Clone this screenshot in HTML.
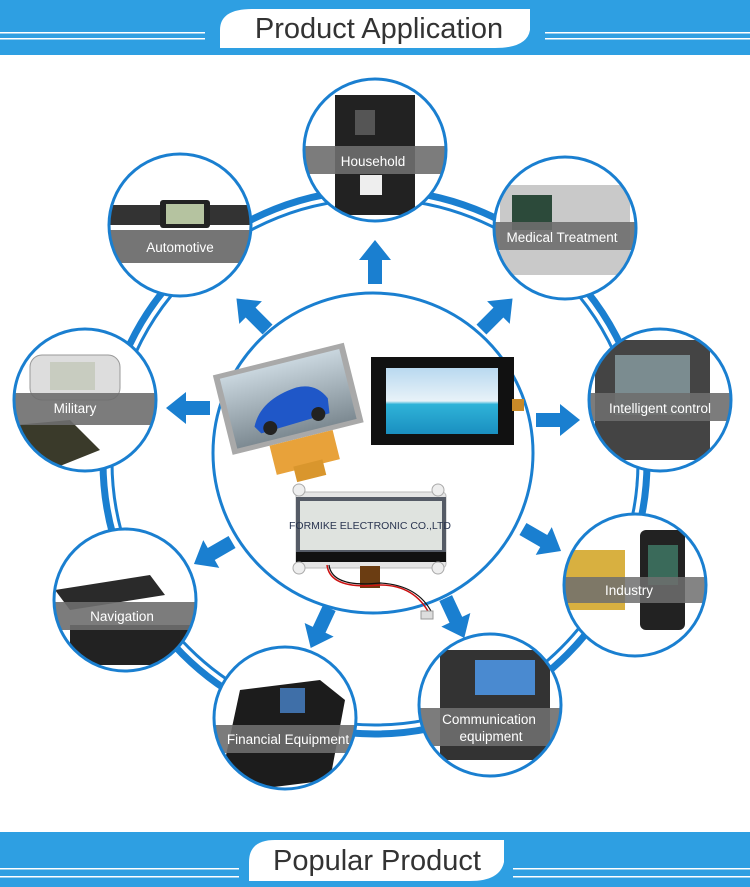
<!DOCTYPE html>
<html><head><meta charset="utf-8"><style>
html,body{margin:0;padding:0;background:#fff;width:750px;height:887px;overflow:hidden}
svg{display:block}
text{font-family:"Liberation Sans",Arial,sans-serif}
</style></head><body>
<svg width="750" height="887" viewBox="0 0 750 887" xmlns="http://www.w3.org/2000/svg">
<defs>
<clipPath id="c1"><circle cx="375" cy="150" r="70"/></clipPath>
<clipPath id="c2"><circle cx="565" cy="228" r="70"/></clipPath>
<clipPath id="c3"><circle cx="660" cy="400" r="70"/></clipPath>
<clipPath id="c4"><circle cx="635" cy="585" r="70"/></clipPath>
<clipPath id="c5"><circle cx="490" cy="705" r="70"/></clipPath>
<clipPath id="c6"><circle cx="285" cy="718" r="70"/></clipPath>
<clipPath id="c7"><circle cx="125" cy="600" r="70"/></clipPath>
<clipPath id="c8"><circle cx="85" cy="400" r="70"/></clipPath>
<clipPath id="c9"><circle cx="180" cy="225" r="70"/></clipPath>
<linearGradient id="sky" x1="0" y1="0" x2="0" y2="1"><stop offset="0" stop-color="#b9d9f0"/><stop offset="0.5" stop-color="#e8f2f8"/><stop offset="0.55" stop-color="#2fb3d8"/><stop offset="1" stop-color="#1a8fc0"/></linearGradient>
<linearGradient id="carbg" x1="0" y1="0" x2="0" y2="1"><stop offset="0" stop-color="#c9d6de"/><stop offset="1" stop-color="#7d8a92"/></linearGradient>
</defs>

<!-- top banner -->
<rect x="0" y="0" width="750" height="55" fill="#2e9fe2"/>
<rect x="0" y="32" width="205" height="1.5" fill="#fff"/><rect x="0" y="38" width="205" height="1.5" fill="#fff"/>
<rect x="545" y="32" width="205" height="1.5" fill="#fff"/><rect x="545" y="38" width="205" height="1.5" fill="#fff"/>
<path d="M220 48 V30 Q220 9 252 9 H530 V30 Q527 48 495 48 Z" fill="#fff"/>
<text x="379" y="38" text-anchor="middle" font-size="29" fill="#333">Product Application</text>

<!-- bottom banner -->
<rect x="0" y="832" width="750" height="55" fill="#2e9fe2"/>
<rect x="0" y="868" width="239" height="1.5" fill="#fff"/><rect x="0" y="876" width="239" height="1.5" fill="#fff"/>
<rect x="513" y="868" width="237" height="1.5" fill="#fff"/><rect x="513" y="876" width="237" height="1.5" fill="#fff"/>
<path d="M249 881 V862 Q249 840 275 840 H504 V862 Q500 881 470 881 Z" fill="#fff"/>
<text x="377" y="870" text-anchor="middle" font-size="29" fill="#333">Popular Product</text>

<!-- ring -->
<circle cx="375" cy="462" r="272" fill="none" stroke="#1a7fd0" stroke-width="7"/>
<circle cx="375" cy="462" r="263" fill="none" stroke="#1a7fd0" stroke-width="3"/>

<!-- arrows -->
<g fill="#1a7fd0">
<g transform="translate(375,262) rotate(0)"><polygon points="0,-22 16,-2 7,-2 7,22 -7,22 -7,-2 -16,-2"/></g>
<g transform="translate(497,314) rotate(45)"><polygon points="0,-22 16,-2 7,-2 7,22 -7,22 -7,-2 -16,-2"/></g>
<g transform="translate(558,420) rotate(90)"><polygon points="0,-22 16,-2 7,-2 7,22 -7,22 -7,-2 -16,-2"/></g>
<g transform="translate(542,540) rotate(120)"><polygon points="0,-22 16,-2 7,-2 7,22 -7,22 -7,-2 -16,-2"/></g>
<g transform="translate(455,618) rotate(155)"><polygon points="0,-22 16,-2 7,-2 7,22 -7,22 -7,-2 -16,-2"/></g>
<g transform="translate(320,628) rotate(205)"><polygon points="0,-22 16,-2 7,-2 7,22 -7,22 -7,-2 -16,-2"/></g>
<g transform="translate(213,553) rotate(240)"><polygon points="0,-22 16,-2 7,-2 7,22 -7,22 -7,-2 -16,-2"/></g>
<g transform="translate(188,408) rotate(270)"><polygon points="0,-22 16,-2 7,-2 7,22 -7,22 -7,-2 -16,-2"/></g>
<g transform="translate(252,314) rotate(-45)"><polygon points="0,-22 16,-2 7,-2 7,22 -7,22 -7,-2 -16,-2"/></g>
</g>

<!-- center circle -->
<circle cx="373" cy="453" r="160" fill="#fff" stroke="#1a7fd0" stroke-width="3"/>
<g transform="rotate(-14 280 405)">
<rect x="222" y="360" width="135" height="82" fill="#a9a9a9"/>
<rect x="228" y="365" width="123" height="72" fill="url(#carbg)"/>
<path d="M250 420 Q262 395 300 392 Q320 392 328 410 L326 425 L255 428 Z" fill="#1f57c8"/>
<circle cx="265" cy="425" r="7" fill="#222"/><circle cx="315" cy="423" r="7" fill="#222"/>
<rect x="260" y="442" width="65" height="30" fill="#e8a23a"/>
<rect x="278" y="468" width="30" height="16" fill="#d9962d"/>
</g>
<rect x="371" y="357" width="143" height="88" fill="#111"/>
<rect x="386" y="368" width="112" height="66" fill="url(#sky)"/>
<rect x="512" y="399" width="12" height="12" fill="#c98a28"/>
<rect x="296" y="492" width="150" height="76" rx="4" fill="#e5e5e5" stroke="#bbb"/>
<rect x="296" y="497" width="150" height="58" fill="#555b66"/>
<rect x="300" y="501" width="142" height="49" fill="#dfe3df"/>
<rect x="296" y="552" width="150" height="10" fill="#111"/>
<circle cx="299" cy="490" r="6" fill="#eee" stroke="#aaa"/><circle cx="438" cy="490" r="6" fill="#eee" stroke="#aaa"/>
<circle cx="299" cy="568" r="6" fill="#eee" stroke="#aaa"/><circle cx="438" cy="568" r="6" fill="#eee" stroke="#aaa"/>
<text x="370" y="529" text-anchor="middle" font-size="10.5" font-family="Liberation Serif,serif" fill="#2a3550">FORMIKE ELECTRONIC CO.,LTD</text>
<rect x="360" y="566" width="20" height="22" fill="#6b3d12"/>
<path d="M327 565 Q330 590 380 585 Q415 585 430 615" fill="none" stroke="#c11" stroke-width="1.5"/>
<path d="M329 565 Q332 588 380 583 Q418 585 432 613" fill="none" stroke="#111" stroke-width="1.2"/>
<rect x="421" y="611" width="12" height="8" fill="#ddd" stroke="#999"/>

<!-- satellites -->
<g stroke="none">
<g clip-path="url(#c1)"><rect x="300" y="75" width="150" height="150" fill="#fff"/><rect x="335" y="95" width="80" height="120" fill="#222"/><rect x="355" y="110" width="20" height="25" fill="#555"/><rect x="360" y="175" width="22" height="20" fill="#eee"/><rect x="300" y="146" width="150" height="28" fill="#6e6e6e" opacity="0.9"/></g>
<circle cx="375" cy="150" r="71" fill="none" stroke="#1a7fd0" stroke-width="3"/>
<text x="373" y="166" text-anchor="middle" font-size="13.5" fill="#fff">Household</text>
<g clip-path="url(#c2)"><rect x="490" y="155" width="150" height="150" fill="#fff"/><rect x="500" y="185" width="130" height="90" fill="#c9c9c9"/><rect x="512" y="195" width="40" height="35" fill="#2c4a3a"/><rect x="490" y="222" width="150" height="28" fill="#6e6e6e" opacity="0.9"/></g>
<circle cx="565" cy="228" r="71" fill="none" stroke="#1a7fd0" stroke-width="3"/>
<text x="562" y="242" text-anchor="middle" font-size="13.5" fill="#fff">Medical Treatment</text>
<g clip-path="url(#c3)"><rect x="585" y="325" width="150" height="150" fill="#fff"/><rect x="595" y="340" width="115" height="120" fill="#444"/><rect x="615" y="355" width="75" height="60" fill="#7b8c90"/><rect x="585" y="393" width="150" height="28" fill="#6e6e6e" opacity="0.9"/></g>
<circle cx="660" cy="400" r="71" fill="none" stroke="#1a7fd0" stroke-width="3"/>
<text x="660" y="413" text-anchor="middle" font-size="13.5" fill="#fff">Intelligent control</text>
<g clip-path="url(#c4)"><rect x="560" y="510" width="150" height="150" fill="#fff"/><rect x="565" y="550" width="60" height="60" fill="#d8b040"/><rect x="640" y="530" width="45" height="100" rx="6" fill="#222"/><rect x="648" y="545" width="30" height="40" fill="#3a6a5a"/><rect x="560" y="577" width="150" height="26" fill="#6e6e6e" opacity="0.85"/></g>
<circle cx="635" cy="585" r="71" fill="none" stroke="#1a7fd0" stroke-width="3"/>
<text x="629" y="595" text-anchor="middle" font-size="13.5" fill="#fff">Industry</text>
<g clip-path="url(#c5)"><rect x="415" y="630" width="150" height="150" fill="#fff"/><rect x="440" y="650" width="110" height="110" fill="#333"/><rect x="475" y="660" width="60" height="35" fill="#4a8ad0"/><rect x="415" y="708" width="150" height="38" fill="#6e6e6e" opacity="0.9"/></g>
<circle cx="490" cy="705" r="71" fill="none" stroke="#1a7fd0" stroke-width="3"/>
<text x="489" y="724" text-anchor="middle" font-size="13.5" fill="#fff">Communication</text>
<text x="491" y="741" text-anchor="middle" font-size="13.5" fill="#fff">equipment</text>
<g clip-path="url(#c6)"><rect x="210" y="645" width="150" height="150" fill="#fff"/><path d="M240 690 L320 680 L345 700 L330 780 L250 790 L225 760 Z" fill="#1c1c1c"/><rect x="280" y="688" width="25" height="25" fill="#3f6fa8"/><rect x="210" y="725" width="150" height="28" fill="#6e6e6e" opacity="0.9"/></g>
<circle cx="285" cy="718" r="71" fill="none" stroke="#1a7fd0" stroke-width="3"/>
<text x="288" y="744" text-anchor="middle" font-size="13.5" fill="#fff">Financial Equipment</text>
<g clip-path="url(#c7)"><rect x="50" y="525" width="150" height="150" fill="#fff"/><path d="M55 590 L150 575 L165 595 L70 610 Z" fill="#2a2a2a"/><rect x="70" y="625" width="130" height="40" fill="#222"/><rect x="50" y="602" width="150" height="28" fill="#6e6e6e" opacity="0.9"/></g>
<circle cx="125" cy="600" r="71" fill="none" stroke="#1a7fd0" stroke-width="3"/>
<text x="122" y="621" text-anchor="middle" font-size="13.5" fill="#fff">Navigation</text>
<g clip-path="url(#c8)"><rect x="10" y="325" width="150" height="150" fill="#fff"/><rect x="30" y="355" width="90" height="45" rx="12" fill="#ddd" stroke="#999"/><rect x="50" y="362" width="45" height="28" fill="#c8ccc0"/><path d="M15 425 L70 420 L100 450 L50 470 Z" fill="#3a3a2a"/><rect x="10" y="393" width="150" height="32" fill="#6e6e6e" opacity="0.9"/></g>
<circle cx="85" cy="400" r="71" fill="none" stroke="#1a7fd0" stroke-width="3"/>
<text x="75" y="413" text-anchor="middle" font-size="13.5" fill="#fff">Military</text>
<g clip-path="url(#c9)"><rect x="105" y="150" width="150" height="150" fill="#fff"/><rect x="110" y="205" width="140" height="20" fill="#333"/><rect x="160" y="200" width="50" height="28" rx="3" fill="#222"/><rect x="166" y="204" width="38" height="20" fill="#b5c3a0"/><rect x="105" y="230" width="150" height="33" fill="#6e6e6e" opacity="0.95"/></g>
<circle cx="180" cy="225" r="71" fill="none" stroke="#1a7fd0" stroke-width="3"/>
<text x="180" y="252" text-anchor="middle" font-size="13.5" fill="#fff">Automotive</text>
</g>
</svg>
</body></html>
